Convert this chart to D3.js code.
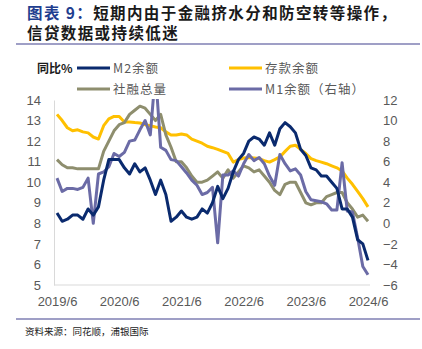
<!DOCTYPE html>
<html><head><meta charset="utf-8">
<script src="https://cdn.jsdelivr.net/npm/d3@7/dist/d3.min.js"></script>
<style>
html,body{margin:0;padding:0;background:#fff;}
svg{display:block;}
</style></head>
<body>
<svg id="chart" width="422" height="349"></svg>
<script>
// ---- data ----
const months = [];
for (let y = 2019; y <= 2024; y++) {
  for (let m = 1; m <= 12; m++) {
    if ((y === 2019 && m < 6) || (y === 2024 && m > 6)) continue;
    months.push(y + "/" + m);
  }
}
const xTickLabels = ["2019/6","2020/6","2021/6","2022/6","2023/6","2024/6"];
const leftTicks = [5,6,7,8,9,10,11,12,13,14];
const rightTicks = [-6,-4,-2,0,2,4,6,8,10,12];

const m2 = [8.5,8.1,8.2,8.4,8.4,8.2,8.7,
  8.4,8.8,10.1,11.1,11.1,11.1,10.7,10.4,10.9,10.5,10.7,10.1,
  9.4,10.1,9.4,8.1,8.3,8.6,8.3,8.2,8.3,8.7,8.5,9.0,
  9.8,9.2,9.7,10.5,11.1,11.4,12.0,12.2,12.1,11.8,12.4,11.8,
  12.6,12.9,12.7,12.4,11.6,11.3,10.7,10.6,10.3,10.3,10.0,9.7,
  8.7,8.7,8.3,7.2,7.0,6.2];
const deposit = [13.3,13.0,12.65,12.5,12.55,12.45,12.4,
  12.2,12.1,12.75,13.08,13.2,13.2,12.93,12.93,12.9,12.88,12.8,12.75,
  12.69,12.65,12.45,12.3,12.3,12.35,12.3,12.1,12.0,11.9,11.75,11.68,
  11.6,11.5,11.4,10.98,11.1,11.18,11.2,11.18,11.15,11.05,10.98,11.1,
  11.23,11.5,11.75,11.8,11.6,11.4,11.15,11.05,10.98,10.9,10.8,10.7,
  10.55,10.2,9.9,9.55,9.2,8.8];
const tsf = [11.1,10.85,10.7,10.7,10.65,10.65,10.65,
  10.65,10.65,11.5,12.0,12.5,12.8,12.9,13.3,13.5,13.7,13.6,13.3,
  13.0,13.3,12.3,11.7,11.0,11.0,10.7,10.3,10.0,10.0,10.1,10.3,
  10.5,10.2,10.6,10.2,10.5,10.8,10.7,10.5,10.6,10.3,10.0,9.6,
  9.4,9.9,10.0,10.0,9.5,9.0,8.9,9.0,9.0,9.3,9.4,9.5,
  9.5,9.0,8.7,8.3,8.4,8.1];
const m1 = [4.4,3.1,3.4,3.4,3.3,3.5,4.4,
  0.0,4.8,5.0,5.5,6.8,6.5,6.9,8.0,8.1,9.1,10.0,8.6,
  14.7,7.4,7.1,6.2,6.1,5.5,4.9,4.2,3.7,2.8,3.0,3.5,
  -1.9,4.7,4.7,5.1,4.6,5.8,6.7,6.1,6.4,5.8,4.6,3.7,
  6.7,5.8,5.1,5.3,4.7,3.1,2.3,2.2,2.1,1.9,1.3,1.3,
  5.9,1.2,1.1,-1.4,-4.2,-5.0];

const seriesNames = ["M2余额","存款余额","社融总量","M1余额（右轴）"];
const colors = ["#0a2a6e","#ffc000","#8e8e6e","#6b6ba6"];

// ---- drawing ----
const svg = d3.select("#chart");
const cjk = "'Noto Sans CJK SC','Noto Sans',sans-serif";
const num = "'Liberation Sans',Arial,sans-serif";

// title
const t1 = svg.append("text").attr("x",27).attr("y",19)
  .attr("font-family",cjk).attr("font-size",15.5).attr("font-weight","bold")
  .attr("letter-spacing",1.4);
t1.append("tspan").attr("fill","#1f3e8f").text("图表 9：");
t1.append("tspan").attr("fill","#1a1a1a").text("短期内由于金融挤水分和防空转等操作，");
svg.append("text").attr("x",27).attr("y",39)
  .attr("font-family",cjk).attr("font-size",15.5).attr("font-weight","bold")
  .attr("letter-spacing",1.4).attr("fill","#1a1a1a").text("信贷数据或持续低迷");

svg.append("line").attr("x1",16).attr("x2",420).attr("y1",44).attr("y2",44)
  .attr("stroke","#7f7fb3").attr("stroke-width",1.3);
svg.append("line").attr("x1",16).attr("x2",420).attr("y1",319).attr("y2",319)
  .attr("stroke","#7f7fb3").attr("stroke-width",1.3);

svg.append("text").attr("x",25).attr("y",335)
  .attr("font-family",cjk).attr("font-size",9.5).attr("fill","#1a1a1a")
  .text("资料来源：同花顺，浦银国际");

// scales
const x = d3.scalePoint().domain(months).range([57,368]);
const yL = d3.scaleLinear().domain([5,14]).range([285,100]);
const yR = d3.scaleLinear().domain([-6,12]).range([285,100]);

// axes
const gL = svg.append("g").attr("transform","translate(54,0)")
  .call(d3.axisLeft(yL).tickValues(leftTicks).tickSize(0).tickPadding(13));
gL.select(".domain").attr("stroke","#d9d9d9");
gL.selectAll("text").attr("font-family",num).attr("font-size",13).attr("fill","#595959");

const gR = svg.append("g").attr("transform","translate(370,0)")
  .call(d3.axisRight(yR).tickValues(rightTicks).tickSize(0).tickPadding(13));
gR.select(".domain").remove();
gR.selectAll("text").attr("font-family",num).attr("font-size",13).attr("fill","#595959");

const gB = svg.append("g").attr("transform","translate(0,285)")
  .call(d3.axisBottom(x).tickValues(xTickLabels).tickSize(0).tickPadding(12));
gB.select(".domain").attr("stroke","#d9d9d9").attr("d","M54,0H370");
gB.selectAll("text").attr("font-family",num).attr("font-size",13).attr("fill","#595959");

// clip
svg.append("clipPath").attr("id","plotclip").append("rect")
  .attr("x",50).attr("y",99).attr("width",325).attr("height",190);

const plot = svg.append("g").attr("clip-path","url(#plotclip)");
const lineL = d3.line().x((d,i)=>x(months[i])).y(d=>yL(d));
const lineR = d3.line().x((d,i)=>x(months[i])).y(d=>yR(d));

plot.append("path").datum(deposit).attr("d",lineL).attr("fill","none")
  .attr("stroke",colors[1]).attr("stroke-width",3).attr("stroke-linejoin","round");
plot.append("path").datum(tsf).attr("d",lineL).attr("fill","none")
  .attr("stroke",colors[2]).attr("stroke-width",3).attr("stroke-linejoin","round");
plot.append("path").datum(m1).attr("d",lineR).attr("fill","none")
  .attr("stroke",colors[3]).attr("stroke-width",3).attr("stroke-linejoin","round");
plot.append("path").datum(m2).attr("d",lineL).attr("fill","none")
  .attr("stroke",colors[0]).attr("stroke-width",3).attr("stroke-linejoin","round");

// legend
svg.append("text").attr("x",37).attr("y",72.5)
  .attr("font-family",cjk).attr("font-size",12).attr("font-weight","bold")
  .attr("fill","#1a1a1a").text("同比%");
const legPos = [[77,68],[229,68],[77,89],[229,89]];
seriesNames.forEach((n,i)=>{
  const [lx,ly] = legPos[i];
  svg.append("line").attr("x1",lx).attr("x2",lx+33).attr("y1",ly).attr("y2",ly)
    .attr("stroke",colors[i]).attr("stroke-width",3);
  svg.append("text").attr("x",lx+36).attr("y",ly+4.5)
    .attr("font-family",cjk).attr("font-size",12.5).attr("fill","#595959")
    .attr("letter-spacing",1).text(n);
});
</script>
</body></html>
